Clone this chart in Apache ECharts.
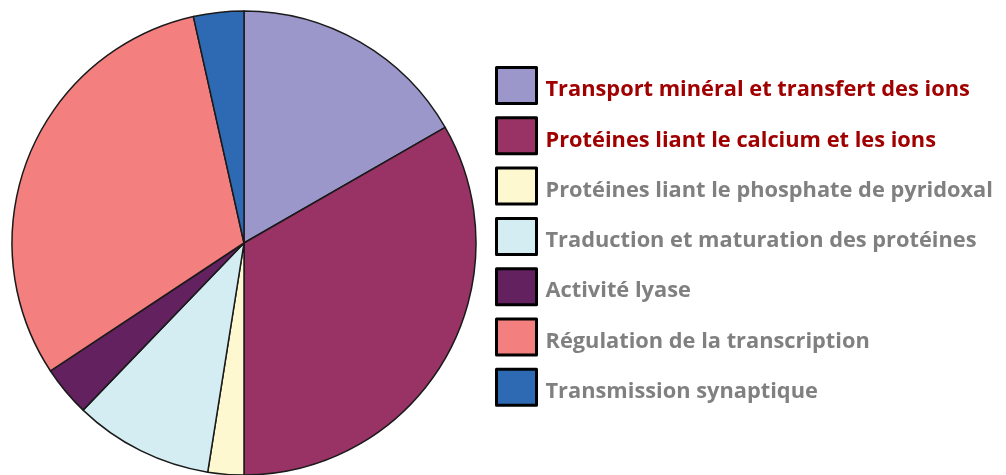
<!DOCTYPE html>
<html>
<head>
<meta charset="utf-8">
<script src="https://cdn.jsdelivr.net/npm/echarts@6/dist/echarts.min.js"></script>
<style>
html, body { margin: 0; padding: 0; background: #fff; }
#chart { width: 1006px; height: 475px; }
</style>
</head>
<body>
<div id="chart"></div>
<script>
// catégories et parts (en %)
var categories = [
	'Transport minéral et transfert des ions',
	'Protéines liant le calcium et les ions',
	'Protéines liant le phosphate de pyridoxal',
	'Traduction et maturation des protéines',
	'Activité lyase',
	'Régulation de la transcription',
	'Transmission synaptique'
];
var values = [16.7, 33.3, 2.5, 9.7, 3.5, 30.8, 3.5];
var colors = ['#9b97cb', '#993366', '#fdf8cf', '#d3edf3', '#632160', '#f37f7f', '#2e6ab3'];
// les deux premières légendes sont en rouge foncé
var highlighted = ['Transport minéral et transfert des ions', 'Protéines liant le calcium et les ions'];

var myChart = echarts.init(document.getElementById('chart'));

var pieData = [];
for (var i = 0; i < categories.length; i++) {
	pieData.push({ name: categories[i], value: values[i], itemStyle: { color: colors[i] } });
}

var txt = {
	fontFamily: 'Open Sans',
	fontWeight: 'bold',
	fontSize: 21.8,
	lineHeight: 24,
	padding: [9, 0, 0, 4]
};

var option = {
	animation: false,
	legend: {
		orient: 'vertical',
		left: 495,
		top: 66,
		padding: 0,
		icon: 'rect',
		itemWidth: 40,
		itemHeight: 36,
		itemGap: 11.3,
		selectedMode: false,
		itemStyle: {
			borderColor: '#000',
			borderWidth: 3
		},
		formatter: function (name) {
			return (highlighted.indexOf(name) >= 0 ? '{r|' : '{g|') + name + '}';
		},
		textStyle: {
			rich: {
				r: Object.assign({ color: '#a00000' }, txt),
				g: Object.assign({ color: '#808080' }, txt)
			}
		},
		data: categories
	},
	series: [{
		type: 'pie',
		center: [244, 243],
		radius: 232,
		startAngle: 90,
		clockwise: true,
		label: { show: false },
		labelLine: { show: false },
		emphasis: { disabled: true },
		itemStyle: {
			borderColor: '#1a1a1a',
			borderWidth: 1.5
		},
		data: pieData
	}]
};

myChart.setOption(option);
window.onresize = myChart.resize;
</script>
</body>
</html>
